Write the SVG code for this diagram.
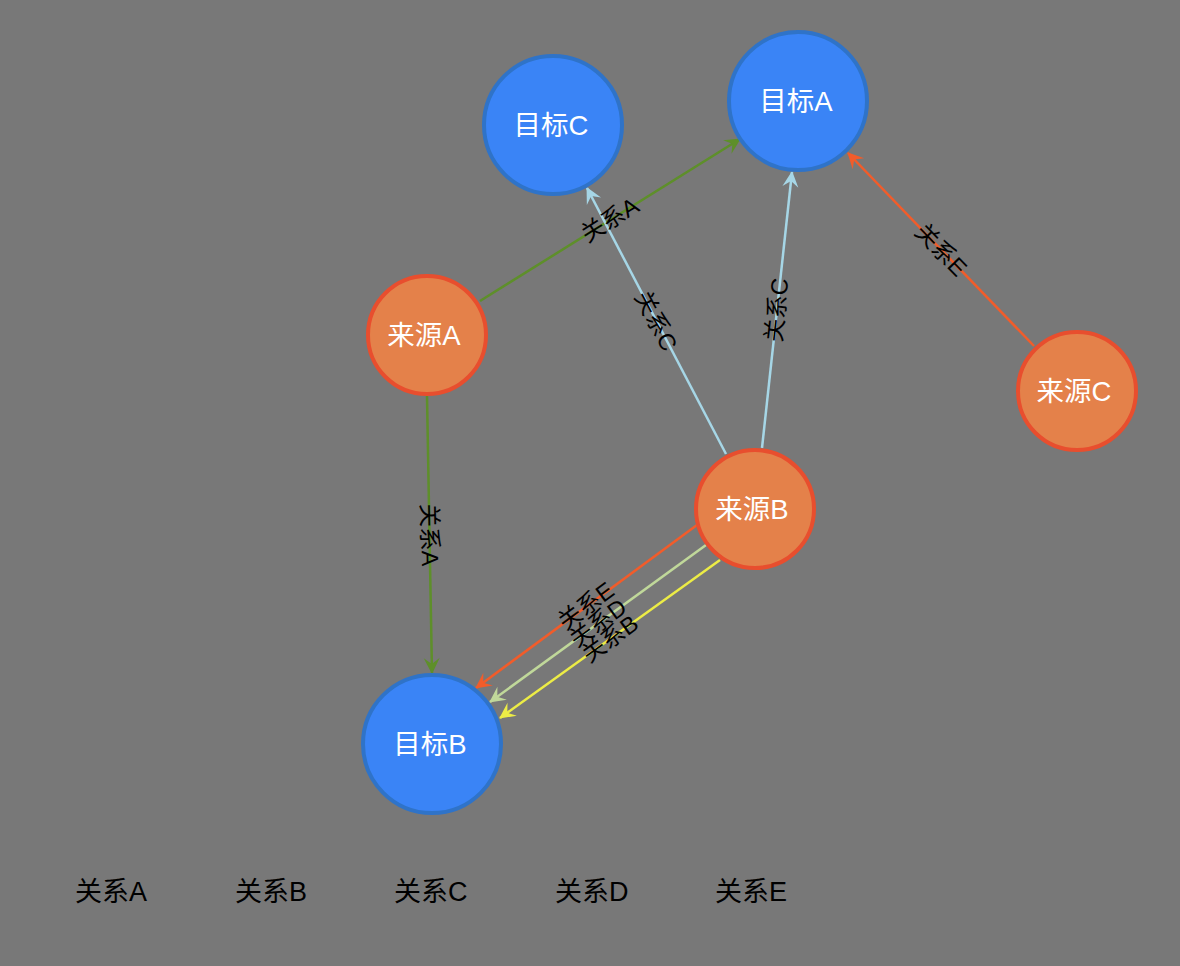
<svg xmlns="http://www.w3.org/2000/svg" width="1180" height="966" viewBox="0 0 1180 966">
<style>
.tgt circle{fill:#3a84f6;stroke:#2f73c8;stroke-width:4}
.src circle{fill:#e4814a;stroke:#e84e2e;stroke-width:4}
.node text{fill:#fff;font-family:"Liberation Sans","Noto Sans CJK SC",sans-serif;font-size:27.5px;text-anchor:middle;dominant-baseline:central}
.edge{fill:none;stroke-width:2.5}
.lbl{fill:#000;font-family:"Liberation Sans","Noto Sans CJK SC",sans-serif;font-size:23.5px;text-anchor:middle;dominant-baseline:central}
.leg{fill:#000;font-family:"Liberation Sans","Noto Sans CJK SC",sans-serif;font-size:27px;dominant-baseline:central}
</style>
<defs>
<marker id="mA" markerUnits="userSpaceOnUse" markerWidth="20" markerHeight="18" viewBox="-17 -9 20 18" refX="0" refY="0" orient="auto"><path d="M1,0 L-15,-8 L-9,0 L-15,8 Z" fill="#5e8f2a"/></marker>
<marker id="mC" markerUnits="userSpaceOnUse" markerWidth="20" markerHeight="18" viewBox="-17 -9 20 18" refX="0" refY="0" orient="auto"><path d="M1,0 L-15,-8 L-9,0 L-15,8 Z" fill="#a6d6e6"/></marker>
<marker id="mE" markerUnits="userSpaceOnUse" markerWidth="20" markerHeight="18" viewBox="-17 -9 20 18" refX="0" refY="0" orient="auto"><path d="M1,0 L-15,-8 L-9,0 L-15,8 Z" fill="#f25c2a"/></marker>
<marker id="mD" markerUnits="userSpaceOnUse" markerWidth="20" markerHeight="18" viewBox="-17 -9 20 18" refX="0" refY="0" orient="auto"><path d="M1,0 L-15,-8 L-9,0 L-15,8 Z" fill="#c0d89a"/></marker>
<marker id="mB" markerUnits="userSpaceOnUse" markerWidth="20" markerHeight="18" viewBox="-17 -9 20 18" refX="0" refY="0" orient="auto"><path d="M1,0 L-15,-8 L-9,0 L-15,8 Z" fill="#ecec46"/></marker>
</defs>
<rect width="1180" height="966" fill="#787878"/>
<g id="connectors">
<line class="edge" x1="480" y1="301" x2="740" y2="139" stroke="#5e8f2a" marker-end="url(#mA)"/>
<line class="edge" x1="427" y1="396" x2="432" y2="673" stroke="#5e8f2a" marker-end="url(#mA)"/>
<line class="edge" x1="726" y1="454" x2="587" y2="188" stroke="#a6d6e6" marker-end="url(#mC)"/>
<line class="edge" x1="762" y1="448" x2="792" y2="172" stroke="#a6d6e6" marker-end="url(#mC)"/>
<line class="edge" x1="1034" y1="346" x2="848" y2="153" stroke="#f25c2a" marker-end="url(#mE)"/>
<line class="edge" x1="697" y1="525" x2="476" y2="688" stroke="#f25c2a" marker-end="url(#mE)"/>
<line class="edge" x1="706" y1="545" x2="490" y2="702" stroke="#c0d89a" marker-end="url(#mD)"/>
<line class="edge" x1="720" y1="560" x2="500" y2="718" stroke="#ecec46" marker-end="url(#mB)"/>
<text class="lbl" transform="translate(610,220) rotate(-31.9)">关系A</text>
<text class="lbl" transform="translate(429.5,535) rotate(89)">关系A</text>
<text class="lbl" transform="translate(656,321) rotate(62.4)">关系C</text>
<text class="lbl" transform="translate(777,310) rotate(-83.8)">关系C</text>
<text class="lbl" transform="translate(941,250) rotate(46)">关系E</text>
<text class="lbl" transform="translate(586,606) rotate(-36.4)">关系E</text>
<text class="lbl" transform="translate(598,623) rotate(-36)">关系D</text>
<text class="lbl" transform="translate(610,639) rotate(-35.7)">关系B</text>
</g>
<g id="target-c" class="node tgt"><circle cx="553" cy="125" r="69"/><text x="551" y="125">目标C</text></g>
<g id="target-a" class="node tgt"><circle cx="798" cy="101" r="69"/><text x="796" y="101">目标A</text></g>
<g id="target-b" class="node tgt"><circle cx="432" cy="744" r="69"/><text x="430" y="744">目标B</text></g>
<g id="source-a" class="node src"><circle cx="427" cy="335" r="59"/><text x="424" y="335">来源A</text></g>
<g id="source-b" class="node src"><circle cx="755" cy="509" r="59"/><text x="752" y="509">来源B</text></g>
<g id="source-c" class="node src"><circle cx="1077" cy="391" r="59"/><text x="1074" y="391">来源C</text></g>
<g id="legend">
<text class="leg" x="75" y="892">关系A</text>
<text class="leg" x="235" y="892">关系B</text>
<text class="leg" x="394" y="892">关系C</text>
<text class="leg" x="555" y="892">关系D</text>
<text class="leg" x="715" y="892">关系E</text>
</g>
</svg>
